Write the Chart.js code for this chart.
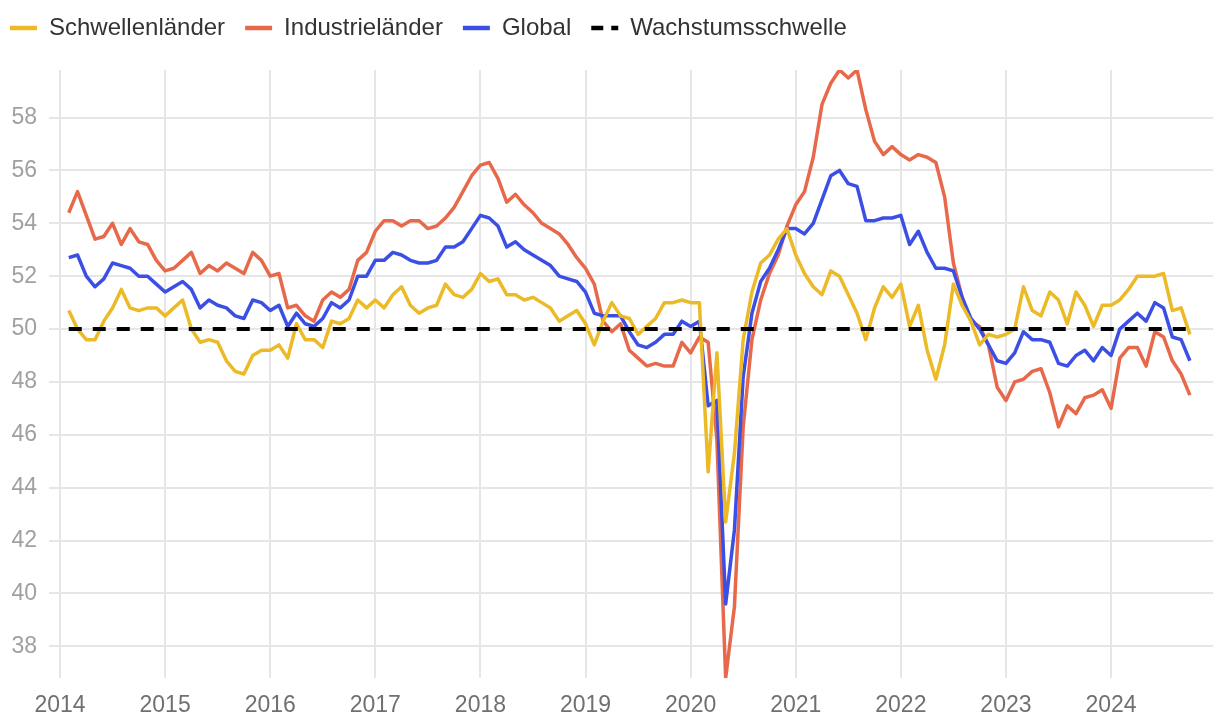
<!DOCTYPE html>
<html lang="de">
<head>
    <meta charset="UTF-8">
    <title>Einkaufsmanagerindex</title>
    <script src="https://cdn.jsdelivr.net/npm/chart.js@4.4.1/dist/chart.umd.min.js"></script>
    <style>
        html, body { margin: 0; padding: 0; background: #fff; }
        #wrap { width: 1220px; height: 724px; }
    </style>
</head>
<body>
<div id="wrap"><canvas id="pmiChart"></canvas></div>
<script>
    // Monate Jan 2014 bis Sep 2024 (Werte zum Monatsende)
    const monate = [];
    for (let j = 2014; j <= 2024; j++) {
        for (let m = 1; m <= 12; m++) {
            if (j === 2024 && m > 9) break;
            monate.push(j + '-' + String(m).padStart(2, '0'));
        }
    }

    const schwellenlaender = [
        50.7, 50.0, 49.6, 49.6, 50.3, 50.8, 51.5, 50.8, 50.7, 50.8, 50.8, 50.5,
        50.8, 51.1, 50.0, 49.5, 49.6, 49.5, 48.8, 48.4, 48.3, 49.0, 49.2, 49.2,
        49.4, 48.9, 50.2, 49.6, 49.6, 49.3, 50.3, 50.2, 50.4, 51.1, 50.8, 51.1,
        50.8, 51.3, 51.6, 50.9, 50.6, 50.8, 50.9, 51.7, 51.3, 51.2, 51.5, 52.1,
        51.8, 51.9, 51.3, 51.3, 51.1, 51.2, 51.0, 50.8, 50.3, 50.5, 50.7, 50.2,
        49.4, 50.3, 51.0, 50.5, 50.4, 49.8, 50.1, 50.4, 51.0, 51.0, 51.1, 51.0,
        51.0, 44.6, 49.1, 42.7, 45.3, 49.6, 51.4, 52.5, 52.8, 53.4, 53.8, 52.8,
        52.1, 51.6, 51.3, 52.2, 52.0, 51.3, 50.6, 49.6, 50.8, 51.6, 51.2, 51.7,
        50.1, 50.9, 49.2, 48.1, 49.4, 51.7, 50.9, 50.3, 49.4, 49.8, 49.7, 49.8,
        50.0, 51.6, 50.7, 50.5, 51.4, 51.1, 50.2, 51.4, 50.9, 50.1, 50.9, 50.9,
        51.1, 51.5, 52.0, 52.0, 52.0, 52.1, 50.7, 50.8, 49.8
    ];

    const industrielaender = [
        54.4, 55.2, 54.3, 53.4, 53.5, 54.0, 53.2, 53.8, 53.3, 53.2, 52.6, 52.2,
        52.3, 52.6, 52.9, 52.1, 52.4, 52.2, 52.5, 52.3, 52.1, 52.9, 52.6, 52.0,
        52.1, 50.8, 50.9, 50.5, 50.3, 51.1, 51.4, 51.2, 51.5, 52.6, 52.9, 53.7,
        54.1, 54.1, 53.9, 54.1, 54.1, 53.8, 53.9, 54.2, 54.6, 55.2, 55.8, 56.2,
        56.3, 55.7, 54.8, 55.1, 54.7, 54.4, 54.0, 53.8, 53.6, 53.2, 52.7, 52.3,
        51.7, 50.3, 49.9, 50.2, 49.2, 48.9, 48.6, 48.7, 48.6, 48.6, 49.5, 49.1,
        49.7, 49.5, 45.8, 36.8, 39.5, 46.3, 49.6, 51.1, 52.1, 52.8, 53.9, 54.7,
        55.2, 56.5, 58.5, 59.3, 59.8, 59.5, 59.8, 58.3, 57.1, 56.6, 56.9, 56.6,
        56.4, 56.6, 56.5, 56.3, 55.0, 52.5, 51.2, 50.3, 50.1, 49.4, 47.8, 47.3,
        48.0, 48.1, 48.4, 48.5, 47.6, 46.3, 47.1, 46.8, 47.4, 47.5, 47.7, 47.0,
        48.9, 49.3, 49.3, 48.6, 49.9, 49.7, 48.8, 48.3, 47.5
    ];

    const globalIndex = [
        52.7, 52.8, 52.0, 51.6, 51.9, 52.5, 52.4, 52.3, 52.0, 52.0, 51.7, 51.4,
        51.6, 51.8, 51.5, 50.8, 51.1, 50.9, 50.8, 50.5, 50.4, 51.1, 51.0, 50.7,
        50.9, 50.1, 50.6, 50.2, 50.1, 50.4, 51.0, 50.8, 51.1, 52.0, 52.0, 52.6,
        52.6, 52.9, 52.8, 52.6, 52.5, 52.5, 52.6, 53.1, 53.1, 53.3, 53.8, 54.3,
        54.2, 53.9, 53.1, 53.3, 53.0, 52.8, 52.6, 52.4, 52.0, 51.9, 51.8, 51.4,
        50.6, 50.5, 50.5, 50.5, 49.9, 49.4, 49.3, 49.5, 49.8, 49.8, 50.3, 50.1,
        50.3, 47.1, 47.3, 39.6, 42.4, 48.2, 50.6, 51.8, 52.3, 53.0, 53.8, 53.8,
        53.6, 54.0, 54.9, 55.8, 56.0, 55.5, 55.4, 54.1, 54.1, 54.2, 54.2, 54.3,
        53.2, 53.7, 52.9, 52.3, 52.3, 52.2, 51.2, 50.4, 50.0, 49.4, 48.8, 48.7,
        49.1, 49.9, 49.6, 49.6, 49.5, 48.7, 48.6, 49.0, 49.2, 48.8, 49.3, 49.0,
        50.0, 50.3, 50.6, 50.3, 51.0, 50.8, 49.7, 49.6, 48.8
    ];

    const wachstumsschwelle = 50;
    const jahre = [2014, 2015, 2016, 2017, 2018, 2019, 2020, 2021, 2022, 2023, 2024];
    const yTicks = [38, 40, 42, 44, 46, 48, 50, 52, 54, 56, 58];

    // Monat "JJJJ-MM" -> Dezimaljahr (Monatsende)
    function zeit(s) {
        const [j, m] = s.split('-').map(Number);
        return j + m / 12;
    }
    function punkte(werte) {
        return werte.map((v, i) => ({ x: zeit(monate[i]), y: v }));
    }

    const alle = schwellenlaender.concat(industrielaender, globalIndex);
    const yMin = Math.min(...alle);
    const yMax = Math.max(...alle);

    // Legende etwas nach links/oben, darunter Abstand bis zur Zeichenflaeche
    const legendAbstand = {
        id: 'legendAbstand',
        beforeInit(chart) {
            const fit = chart.legend.fit;
            chart.legend.fit = function () {
                fit.bind(chart.legend)();
                this.height += 16;
            };
        },
        afterLayout(chart) {
            chart.legend.left = -10;
            chart.legend.top -= 4;
        }
    };

    Chart.defaults.font.family = '"Liberation Sans", Arial, Helvetica, sans-serif';
    Chart.defaults.font.size = 23;

    const ctx = document.getElementById('pmiChart').getContext('2d');
    const chart = new Chart(ctx, {
        type: 'line',
        data: {
            datasets: [
                {
                    label: 'Schwellenländer',
                    data: punkte(schwellenlaender),
                    borderColor: '#ECBA26',
                    backgroundColor: '#ECBA26',
                    borderWidth: 3.5,
                    order: 1
                },
                {
                    label: 'Industrieländer',
                    data: punkte(industrielaender),
                    borderColor: '#E8694A',
                    backgroundColor: '#E8694A',
                    borderWidth: 3.5,
                    order: 3
                },
                {
                    label: 'Global',
                    data: punkte(globalIndex),
                    borderColor: '#3B4FE4',
                    backgroundColor: '#3B4FE4',
                    borderWidth: 3.5,
                    order: 2
                },
                {
                    label: 'Wachstumsschwelle',
                    data: punkte(monate.map(() => wachstumsschwelle)),
                    borderColor: '#000',
                    backgroundColor: '#000',
                    borderWidth: 4,
                    borderDash: [13, 11],
                    borderCapStyle: 'butt',
                    order: 0
                }
            ]
        },
        options: {
            responsive: true,
            maintainAspectRatio: false,
            animation: false,
            layout: { padding: { left: 12, right: 7, top: 0, bottom: 4 } },
            elements: {
                point: { radius: 0 },
                line: { tension: 0, borderJoinStyle: 'round' }
            },
            plugins: {
                legend: {
                    position: 'top',
                    align: 'start',
                    labels: {
                        usePointStyle: true,
                        pointStyle: 'line',
                        pointStyleWidth: 27,
                        padding: 20,
                        color: '#333',
                        font: { size: 24 },
                        sort: (a, b) => a.datasetIndex - b.datasetIndex,
                        generateLabels: chart => {
                            const items = Chart.defaults.plugins.legend.labels.generateLabels(chart);
                            return items.map(item => {
                                const ds = chart.data.datasets[item.datasetIndex];
                                item.strokeStyle = ds.borderColor;
                                item.lineWidth = 4.5;
                                item.lineDash = ds.borderDash ? [12, 8] : [];
                                return item;
                            });
                        }
                    }
                },
                tooltip: { enabled: false }
            },
            scales: {
                x: {
                    type: 'linear',
                    min: 2014,
                    max: 2024.97,
                    grid: { color: '#e6e6e6', lineWidth: 2, drawTicks: false },
                    border: { display: false },
                    ticks: { color: '#707070', padding: 14, callback: v => String(v) },
                    afterBuildTicks: s => { s.ticks = jahre.map(v => ({ value: v })); },
                    afterFit: s => { s.height = 42; }
                },
                y: {
                    min: yMin,
                    max: yMax,
                    grid: { color: '#e6e6e6', lineWidth: 2, tickLength: 11 },
                    border: { display: false },
                    ticks: { color: '#a0a0a0', padding: 12 },
                    afterBuildTicks: s => { s.ticks = yTicks.map(v => ({ value: v })); },
                    afterFit: s => { s.width = 48; }
                }
            }
        },
        plugins: [legendAbstand]
    });
</script>
</body>
</html>
